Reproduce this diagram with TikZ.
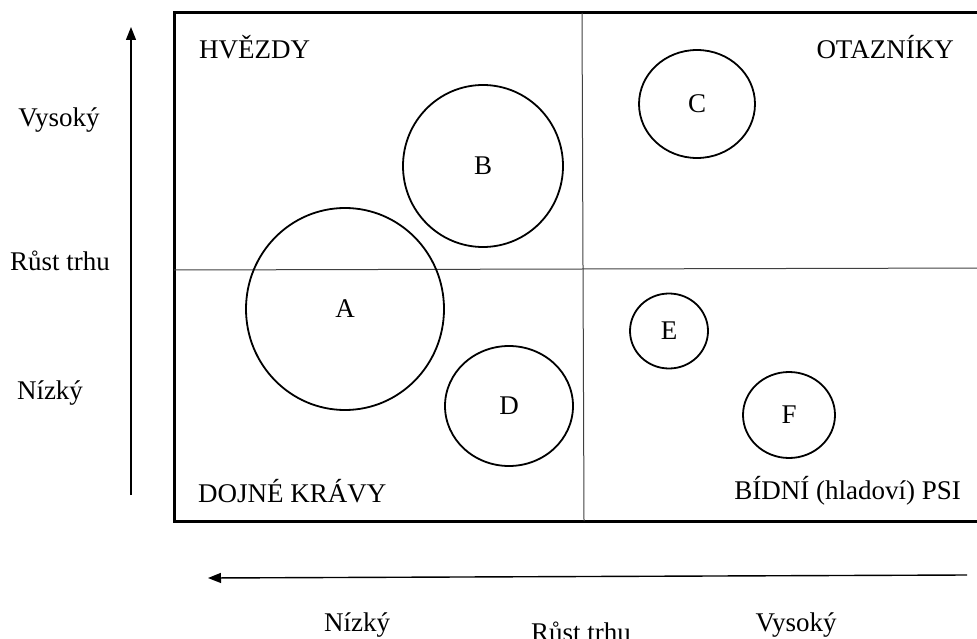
\documentclass[tikz,border=0pt]{standalone}
\usepackage{fontspec}
\setmainfont{Liberation Serif}
\usetikzlibrary{arrows.meta,shapes.geometric}
\tikzset{
  lbl/.style={font=\fontsize{27}{32}\selectfont, inner sep=0pt},
  unit/.style={draw, line width=1.8pt, ellipse, inner sep=0pt, font=\fontsize{27}{32}\selectfont},
  divider/.style={draw=black!75, line width=1pt},
  axis/.style={draw, line width=1.4pt, -{Triangle[length=13pt,width=10pt]}}
}
\begin{document}
\begin{tikzpicture}[x=1pt,y=-1pt]
  \useasboundingbox (0,0) rectangle (977,639);
  \clip (0,0) rectangle (977,639);

  % matrix frame and quadrant dividers
  \draw[line width=3pt] (990,13) -- (174,13) -- (174,521) -- (990,521);
  \coordinate (vtop) at (582,13);
  \coordinate (vbot) at (584,521);
  \coordinate (hleft) at (174,270);
  \coordinate (hright) at (990,268);
  \draw[divider] (vtop) -- (vbot);
  \draw[divider] (hleft) -- (hright);

  % quadrant names
  \node[lbl, anchor=west] (q1) at (199,47) {HVĚZDY};
  \node[lbl, anchor=east] (q2) at (954,47) {OTAZNÍKY};
  \node[lbl, anchor=west] (q3) at (198,491) {DOJNÉ KRÁVY};
  \node[lbl, anchor=east] (q4) at (961,491) {BÍDNÍ (hladoví) PSI};

  % business units
  \node[unit, minimum width=198pt, minimum height=202pt] (A) at (345,309) {A};
  \node[unit, minimum width=160pt, minimum height=162pt] (B) at (483,166) {B};
  \node[unit, minimum width=116pt, minimum height=108pt] (C) at (697,104) {C};
  \node[unit, minimum width=128pt, minimum height=120pt] (D) at (509,406) {D};
  \node[unit, minimum width=78pt, minimum height=75pt] (E) at (669,331) {E};
  \node[unit, minimum width=92pt, minimum height=86pt] (F) at (789,415) {F};

  % vertical axis
  \coordinate (ybot) at (131,495);
  \coordinate (ytop) at (131,27);
  \draw[axis] (ybot) -- (ytop);
  \node[lbl] (yhi) at (59,120) {Vysoký};
  \node[lbl] (ymid) at (60,261) {Růst trhu};
  \node[lbl] (ylo) at (50,393) {Nízký};

  % horizontal axis
  \coordinate (xright) at (967,575);
  \coordinate (xleft) at (208,578);
  \draw[axis] (xright) -- (xleft);
  \node[lbl] (xlo) at (357,625) {Nízký};
  \node[lbl] (xmid) at (581,632) {Růst trhu};
  \node[lbl] (xhi) at (796,625) {Vysoký};
\end{tikzpicture}
\end{document}
